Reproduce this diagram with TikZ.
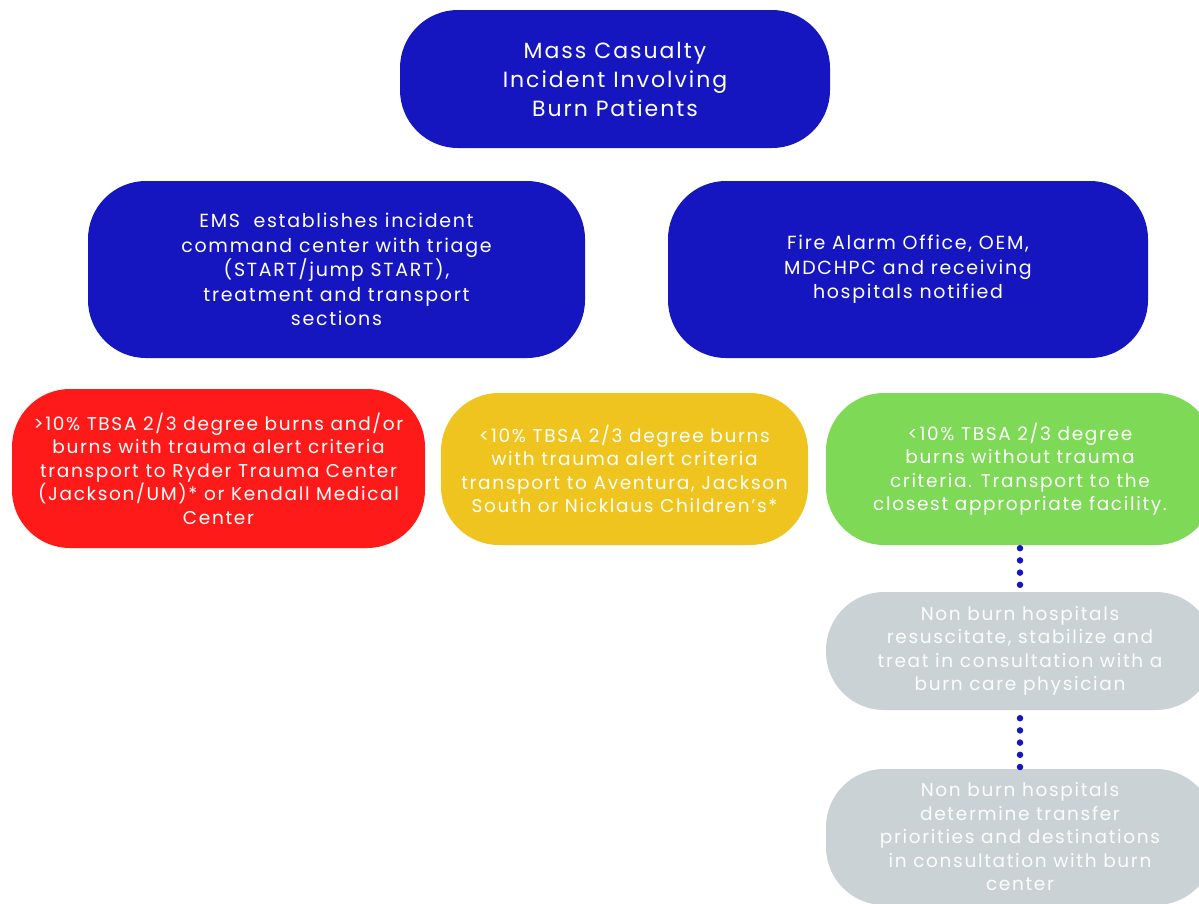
\documentclass[tikz,border=0pt]{standalone}
\usepackage{fontspec}
\setmainfont{Poppins}[LetterSpace=9]
\usepackage{xcolor}
\definecolor{mcblue}{RGB}{22,22,192}
\definecolor{mcred}{RGB}{255,26,26}
\definecolor{mcyellow}{RGB}{240,196,30}
\definecolor{mcgreen}{RGB}{126,217,87}
\definecolor{mcgrey}{RGB}{203,210,214}
\newcommand\boxfont{\fontsize{18.5}{23.5}\selectfont}
\begin{document}
\begin{tikzpicture}[x=1pt,y=-1pt,
    pill/.style={rectangle,rounded corners=58pt,text=white,align=center,inner sep=0pt},
    dotline/.style={draw=mcblue,line width=6.5pt,line cap=round,dash pattern=on 0pt off 12.2pt}]
  \useasboundingbox (0,0) rectangle (1199,903);
  \clip (0,0) rectangle (1199,903);

  \node[pill,fill=mcblue,minimum width=430pt,minimum height=138pt,font=\fontsize{22}{29}\selectfont] (mci) at (615,79) {Mass Casualty\\Incident Involving\\Burn Patients};

  \node[pill,fill=mcblue,minimum width=497pt,minimum height=177pt,font=\fontsize{19}{24.5}\selectfont] (ems) at (336.5,269.5) {EMS\ \ establishes incident\\command center with triage\\(START/jump START),\\treatment and transport\\sections};
  \node[pill,fill=mcblue,minimum width=480pt,minimum height=177pt,font=\fontsize{19}{24.5}\selectfont] (fao) at (908,269.5) {Fire Alarm Office, OEM,\\MDCHPC and receiving\\hospitals notified};

  \node[pill,fill=mcred,minimum width=413pt,minimum height=159pt,font=\boxfont] (major) at (218.5,468.5) {>10\% TBSA 2/3 degree burns and/or\\burns with trauma alert criteria\\transport to Ryder Trauma Center\\(Jackson/UM)* or Kendall Medical\\Center};
  \node[pill,fill=mcyellow,minimum width=367pt,minimum height=152pt,font=\boxfont] (minor) at (624.5,469) {<10\% TBSA 2/3 degree burns\\with trauma alert criteria\\transport to Aventura, Jackson\\South or Nicklaus Children's*};
  \node[pill,fill=mcgreen,minimum width=388pt,minimum height=152pt,font=\boxfont] (closest) at (1020,469) {<10\% TBSA 2/3 degree\\burns without trauma\\criteria. Transport to the\\closest appropriate facility.};

  \node[pill,fill=mcgrey,text=white!94!mcgrey,minimum width=388pt,minimum height=118pt,font=\boxfont] (treat) at (1020,651) {Non burn hospitals\\resuscitate, stabilize and\\treat in consultation with a\\burn care physician};
  \node[pill,fill=mcgrey,text=white!94!mcgrey,minimum width=388pt,minimum height=136pt,font=\boxfont] (transfer) at (1020,837) {Non burn hospitals\\determine transfer\\priorities and destinations\\in consultation with burn\\center};

  \draw[dotline] ([yshift=-3pt]closest.south) -- (treat.north);
  \draw[dotline] ([yshift=-8pt]treat.south) -- (transfer.north);
\end{tikzpicture}
\end{document}
